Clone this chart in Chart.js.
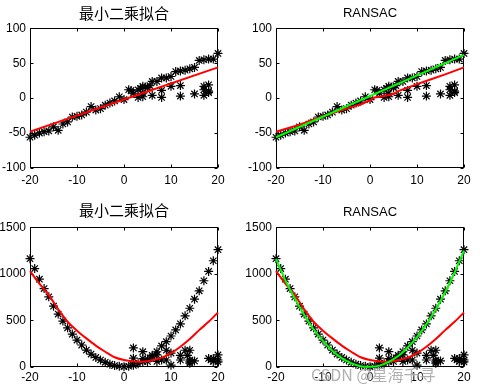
<!DOCTYPE html>
<html><head><meta charset="utf-8">
<script src="https://cdn.jsdelivr.net/npm/chart.js@4/dist/chart.umd.min.js"></script>
<style>
html,body{margin:0;padding:0;background:#fff;width:483px;height:391px;overflow:hidden;position:relative}
canvas{position:absolute}
#wm{position:absolute;left:311px;top:362px;font:16px "Noto Sans CJK SC","Liberation Sans",sans-serif;color:rgba(150,150,150,0.75);white-space:nowrap;text-shadow:0 0 2px #fff}
</style></head><body>
<canvas id="c1" width="240" height="195" style="left:0;top:0"></canvas>
<canvas id="c2" width="243" height="195" style="left:240px;top:0"></canvas>
<canvas id="c3" width="240" height="196" style="left:0;top:195px"></canvas>
<canvas id="c4" width="243" height="196" style="left:240px;top:195px"></canvas>
<div id="wm">CSDN @星海千寻</div>
<script>
// ---------- tick labels ----------
const xTicks = [-20, -10, 0, 10, 20];
const yTicksLin = [-100, -50, 0, 50, 100];
const yTicksQuad = [0, 500, 1000, 1500];
const titleLS = '最小二乘拟合';
const titleRS = 'RANSAC';

// ---------- linear data (top row) ----------
const linX = [-20,-19,-18,-17,-16,-15,-14,-13,-12,-11,-10,-9,-8,-7,-6,-5,-4,-3,-2,-1,0,1,1.5,2,3,3.5,4,4.5,5,5.5,6,7,8,9,10,11,12,13,14,15,16,17,18,19,20,
  3,4,4,6,8,8,10,12,12,15,17,17,17,18,18,18];
const linY = [-56,-53,-50,-48,-47,-41,-46,-37,-34,-27,-26,-24,-20,-12,-17,-15,-10,-7,-4,2,-2,12,11,7,12,14,17,16,15,18,24,24,29,29,31,38,39,40,42,44,54,55,56,56,64,
  1,2,7,4,1,11,17,18,3,6,4,12,17,19,10,8];
// least-squares line (left) and its RANSAC-panel trace (right)
const lsLinX = [-20, 0, 20];
const lsLinY = [-48, -2, 44];
const lsLinX2 = [-20,-15,-10,-5,-2,0,1,3,5,6,8,10,13,16,20];
const lsLinY2 = [-48,-38,-26,-15,-9,-3,1,3,6,10,15,20,27,34,44];
// RANSAC line
const rsLinX = [-20, 20];
const rsLinY = [-56, 62];

// ---------- quadratic data (bottom row) ----------
const quadX = [-20,-19,-18,-17,-16,-15,-14,-13,-12,-11,-10,-9,-8,-7,-6,-5,-4,-3,-2,-1,0,1,2,3,4,5,6,7,8,9,10,11,12,13,14,15,16,17,18,19,20,
  2,2,2,4,4,5,6,7,7,8,9,9,10,10,12,12,13,13.5,14,14,14,14,15,18,18.5,19,19,20,20,20];
const quadY = [1163,1057,943,842,753,653,568,493,421,354,289,236,182,139,103,75,50,30,15,8,3,8,18,35,58,85,125,164,226,272,333,398,463,549,631,728,818,926,1026,1141,1260,
  205,95,40,165,90,60,110,130,60,75,180,75,150,20,125,75,180,125,180,75,55,40,65,92,75,90,60,130,75,55];
const lsQuadX = [-20,-18,-16,-14,-12,-10,-8,-6,-4,-2,0,2,4,6,8,10,12,14,16,18,20];
const lsQuadY = [1029,895,771,620,486,390,307,230,164,105,75,60,57,72,100,150,218,300,396,485,586];
const rsQuadX = [-20,-18,-16,-14,-12,-10,-8,-6,-4,-2,0,2,4,6,8,10,12,14,16,18,20];
const rsQuadY = [1160,930,735,560,405,280,175,95,40,8,2,15,55,118,210,320,460,620,805,1015,1250];

const zip = (xs, ys) => xs.map((x, i) => ({x, y: ys[i]}));
const FONT = '"Liberation Sans", Arial, sans-serif';
const CJK = '"Noto Sans CJK SC", "Liberation Sans", sans-serif';

const boxPlugin = {
  id: 'box',
  beforeDatasetsDraw(chart) {
    const {ctx, chartArea: a, scales: {x, y}} = chart;
    ctx.save();
    ctx.strokeStyle = '#000';
    ctx.lineWidth = 1;
    const L = Math.round(a.left) + 0.5, R = Math.round(a.right) - 0.5;
    const T = Math.round(a.top) + 0.5, B = Math.round(a.bottom) - 0.5;
    ctx.strokeRect(L, T, R - L, B - T);
    ctx.beginPath();
    x.ticks.forEach(t => {
      const p = Math.round(x.getPixelForValue(t.value)) + 0.5;
      ctx.moveTo(p, B); ctx.lineTo(p, B - 3);
      ctx.moveTo(p, T); ctx.lineTo(p, T + 3);
    });
    y.ticks.forEach(t => {
      const p = Math.round(y.getPixelForValue(t.value)) + 0.5;
      ctx.moveTo(L, p); ctx.lineTo(L + 3, p);
      ctx.moveTo(R, p); ctx.lineTo(R - 3, p);
    });
    ctx.stroke();
    ctx.restore();
  }
};

function makeChart(id, o) {
  const datasets = [];
  if (o.green) datasets.push({type: 'line', data: o.green, borderColor: '#00ff00', borderWidth: 2, pointRadius: 0, tension: o.tension || 0, clip: false});
  datasets.push({type: 'line', data: o.red, borderColor: '#ff0000', borderWidth: 2, pointRadius: 0, tension: o.tension || 0, clip: false});
  datasets.push({type: 'scatter', data: o.pts, pointStyle: 'star', pointRadius: 4.5, borderColor: '#000', backgroundColor: '#000', borderWidth: 1.2, showLine: false, clip: false});
  return new Chart(document.getElementById(id), {
    data: {datasets},
    options: {
      responsive: false, animation: false, devicePixelRatio: 1,
      layout: {padding: {left: 0, right: o.padRight, top: 0, bottom: 0}},
      plugins: {
        legend: {display: false}, tooltip: {enabled: false},
        title: {display: true, text: o.title, color: '#000', fullSize: false,
          font: {family: o.cjk ? CJK : FONT, size: o.cjk ? 15 : 13, weight: 'normal', lineHeight: 1.2},
          padding: {top: o.tTop, bottom: o.tBottom}}
      },
      scales: {
        x: {type: 'linear', min: -20, max: 20,
          afterBuildTicks: s => { s.ticks = xTicks.map(v => ({value: v})); },
          afterFit: s => { s.height = o.xH; },
          grid: {display: false, drawTicks: false}, border: {display: false},
          ticks: {color: '#000', padding: o.xPad, maxRotation: 0, autoSkip: false, font: {family: FONT, size: 12},
            callback: v => String(v)}},
        y: {type: 'linear', min: o.ymin, max: o.ymax,
          afterBuildTicks: s => { s.ticks = o.yTicks.map(v => ({value: v})); },
          afterFit: s => { s.width = o.yW; },
          grid: {display: false, drawTicks: false}, border: {display: false},
          ticks: {color: '#000', padding: 4, autoSkip: false, font: {family: FONT, size: 12},
            callback: v => String(v)}}
      }
    },
    plugins: [boxPlugin]
  });
}

const ptsLin = zip(linX, linY);
const ptsQuad = zip(quadX, quadY);

makeChart('c1', {title: titleLS, cjk: true, tTop: 4, tBottom: 6.3, padRight: 22, xH: 27, xPad: 5, yW: 30,
  ymin: -100, ymax: 100, yTicks: yTicksLin, pts: ptsLin, red: zip(lsLinX, lsLinY)});
makeChart('c2', {title: titleRS, cjk: false, tTop: 5.5, tBottom: 7.2, padRight: 19, xH: 27, xPad: 5, yW: 36,
  ymin: -100, ymax: 100, yTicks: yTicksLin, pts: ptsLin, red: zip(lsLinX2, lsLinY2), green: zip(rsLinX, rsLinY)});
makeChart('c3', {title: titleLS, cjk: true, tTop: 6, tBottom: 8.3, padRight: 22, xH: 24, xPad: 3, yW: 30,
  ymin: 0, ymax: 1500, yTicks: yTicksQuad, pts: ptsQuad, red: zip(lsQuadX, lsQuadY), tension: 0.3});
makeChart('c4', {title: titleRS, cjk: false, tTop: 9.5, tBottom: 7.2, padRight: 19, xH: 24, xPad: 3, yW: 36,
  ymin: 0, ymax: 1500, yTicks: yTicksQuad, pts: ptsQuad, red: zip(lsQuadX, lsQuadY), green: zip(rsQuadX, rsQuadY), tension: 0.3});
</script>
</body></html>
